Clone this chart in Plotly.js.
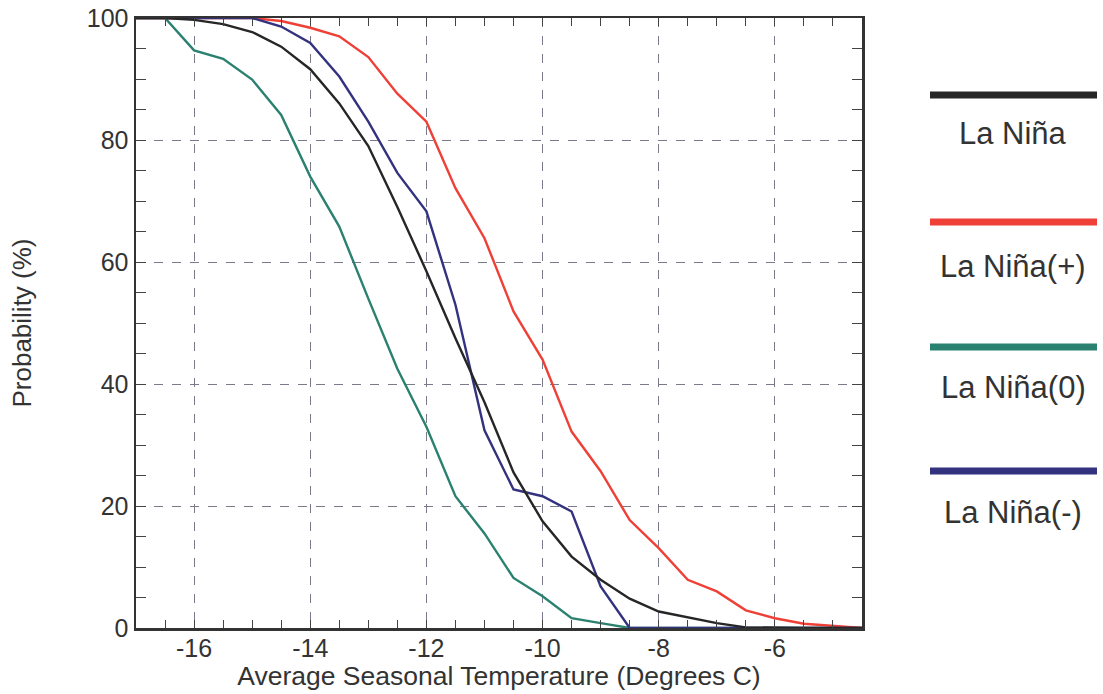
<!DOCTYPE html>
<html>
<head>
<meta charset="utf-8">
<script src="https://cdn.plot.ly/plotly-3.0.1.min.js"></script>
<style>html,body{margin:0;padding:0;background:#fff;}#chart{width:1103px;height:694px;}</style>
</head>
<body>
<div id="chart"></div>
<script>
// Temperature (Degrees C)
const temps = [-17, -16.5, -16, -15.5, -15, -14.5, -14, -13.5, -13, -12.5, -12, -11.5, -11, -10.5, -10, -9.5, -9, -8.5, -8, -7.5, -7, -6.5, -6, -5.5, -5, -4.5];
// Probability (%)
const laNina      = [100, 100, 99.7, 99.0, 97.7, 95.3, 91.6, 86.0, 79.0, 69.0, 58.5, 47.5, 37.0, 25.5, 17.5, 11.7, 7.9, 4.8, 2.7, 1.8, 0.8, 0.1, 0, 0, 0, 0];
const laNinaPlus  = [100, 100, 100, 100, 100, 99.5, 98.4, 97.0, 93.6, 87.6, 83.0, 72.1, 63.9, 51.9, 44.0, 32.2, 25.7, 17.7, 13.1, 7.9, 6.0, 2.9, 1.6, 0.7, 0.3, 0];
const laNinaZero  = [100, 100, 94.7, 93.3, 89.9, 84.1, 74.0, 65.8, 54.0, 42.5, 33.0, 21.6, 15.5, 8.2, 5.2, 1.6, 0.8, 0, 0, 0, 0, 0, 0, 0, 0, 0];
const laNinaMinus = [100, 100, 100, 100, 100, 98.6, 95.9, 90.4, 83.0, 74.6, 68.3, 53.0, 32.4, 22.7, 21.6, 19.1, 6.8, 0, 0, 0, 0, 0, 0, 0, 0, 0];

const seriesNames  = ['La Niña', 'La Niña(+)', 'La Niña(0)', 'La Niña(-)'];
const seriesValues = [laNina, laNinaPlus, laNinaZero, laNinaMinus];
const seriesColors = ['#262626', '#ee4037', '#2b8170', '#33327f'];

const xTickVals = [-16, -14, -12, -10, -8, -6];
const xTickText = ['-16', '-14', '-12', '-10', '-8', '-6'];
const yTickVals = [0, 20, 40, 60, 80, 100];
const yTickText = ['0', '20', '40', '60', '80', '100'];

const W = 1103, H = 694;
const M = {l: 136, r: 241, t: 18, b: 66};
const pw = W - M.l - M.r, ph = H - M.t - M.b;
const px2x = p => (p - M.l) / pw;
const px2y = p => (H - M.b - p) / ph;
const FONT = 'Liberation Sans, Arial, sans-serif';

const order = [2, 1, 3, 0];
const traces = order.map(i => ({
  x: temps, y: seriesValues[i], type: 'scatter', mode: 'lines',
  name: seriesNames[i], line: {color: seriesColors[i], width: 2.4},
  showlegend: false, hoverinfo: 'x+y+name'
}));

// custom legend (line above centered text)
const legendLineY = [95, 222, 347, 471];
const legendTextY = [133, 266, 387, 512];
const shapes = [], annotations = [];
seriesNames.forEach((n, i) => {
  shapes.push({type: 'line', xref: 'paper', yref: 'paper',
    x0: px2x(930), x1: px2x(1097), y0: px2y(legendLineY[i]), y1: px2y(legendLineY[i]),
    line: {color: seriesColors[i], width: 7}});
  annotations.push({xref: 'paper', yref: 'paper', x: px2x(1013), y: px2y(legendTextY[i]),
    xanchor: 'center', yanchor: 'middle', showarrow: false, text: n,
    font: {family: FONT, size: 31, color: '#333'}});
});

const axisCommon = {
  showline: true, linecolor: '#333', linewidth: 2.5, mirror: 'ticks',
  ticks: 'inside', tickcolor: '#444', tickwidth: 1, zeroline: false,
  showgrid: true, gridcolor: '#7a7a8a', griddash: 'dash', gridwidth: 1,
  tickfont: {family: FONT, size: 25, color: '#333'},
};

const layout = {
  width: W, height: H,
  margin: M,
  paper_bgcolor: '#ffffff', plot_bgcolor: '#ffffff',
  font: {family: FONT, color: '#333'},
  xaxis: Object.assign({}, axisCommon, {
    range: [-17, -4.5], tickmode: 'array', tickvals: xTickVals, ticktext: xTickText, ticklen: 8,
    ticklabelstandoff: -4,
    minor: {dtick: 0.5, tick0: 0, ticks: 'inside', ticklen: 8, tickcolor: '#444', showgrid: false},
    title: {text: 'Average Seasonal Temperature (Degrees C)', standoff: 4,
      font: {family: FONT, size: 26.5, color: '#333'}}
  }),
  yaxis: Object.assign({}, axisCommon, {
    range: [0, 100], tickmode: 'array', tickvals: yTickVals, ticktext: yTickText, ticklen: 10,
    minor: {dtick: 5, tick0: 0, ticks: 'inside', ticklen: 10, tickcolor: '#444', showgrid: false},
    title: {text: 'Probability (%)', standoff: 48,
      font: {family: FONT, size: 26, color: '#333'}}
  }),
  shapes: shapes, annotations: annotations
};

Plotly.newPlot('chart', traces, layout, {displayModeBar: false, staticPlot: true});
</script>
</body>
</html>
